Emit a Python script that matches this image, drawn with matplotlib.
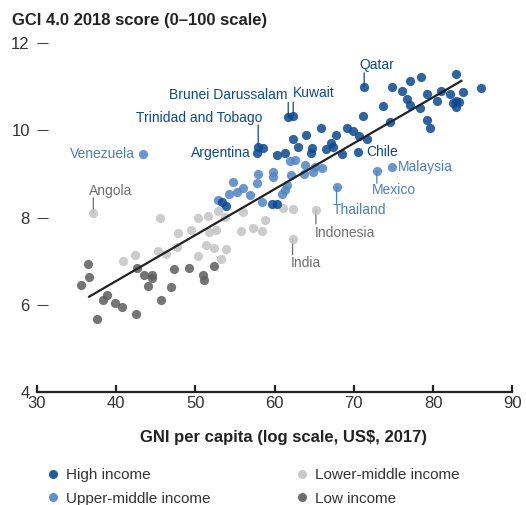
import matplotlib
matplotlib.use("Agg")
import matplotlib.pyplot as plt
from matplotlib.lines import Line2D

plt.rcParams['font.family'] = ['Liberation Sans', 'DejaVu Sans']

# ---------------- data ----------------
high_names = ['Qatar', 'Brunei Darussalam', 'Kuwait', 'Trinidad and Tobago', 'Argentina', 'Chile']
high_x = [71.31, 61.73, 62.36, 57.94, 57.74, 70.56,
          58.58, 71.11, 73.71, 74.84, 77.04, 78.50, 82.96, 76.03, 76.66, 77.08,
          78.34, 79.18, 80.44, 80.98, 82.08, 83.80, 82.46, 82.96, 83.29, 82.96,
          86.03, 79.18, 79.60, 74.55, 65.85, 69.09, 69.92, 70.61, 71.61, 67.78,
          63.93, 62.32, 62.99, 64.68, 64.63, 67.11, 67.37, 66.52, 68.46, 60.34,
          61.31, 53.43, 53.93, 59.63, 60.26]
high_y = [11.00, 10.30, 10.33, 9.62, 9.47, 9.51,
          9.59, 10.33, 10.57, 11.00, 11.14, 11.23, 11.29, 10.90, 10.71, 10.58,
          10.52, 10.84, 10.67, 10.91, 10.84, 10.89, 10.62, 10.68, 10.65, 10.54,
          10.97, 10.24, 10.05, 10.20, 10.06, 10.06, 9.99, 9.87, 9.80, 9.89,
          9.90, 9.80, 9.62, 9.59, 9.49, 9.71, 9.62, 9.58, 9.45, 9.43,
          9.47, 8.36, 8.26, 8.32, 8.32]

upper_names = ['Venezuela', 'Malaysia', 'Mexico', 'Thailand']
upper_x = [43.37, 74.77, 72.91, 67.83,
           61.94, 62.57, 63.83, 65.09, 65.94, 63.75, 64.88, 57.94, 59.84, 59.84,
           62.07, 54.79, 57.74, 56.05, 55.22, 54.25, 56.90, 61.31, 61.53, 60.90,
           52.90, 58.37]
upper_y = [9.46, 9.17, 9.06, 8.69,
           9.30, 9.32, 9.20, 9.16, 9.13, 9.01, 9.05, 9.01, 9.05, 8.92,
           8.97, 8.82, 8.80, 8.67, 8.59, 8.55, 8.51, 8.63, 8.74, 8.55,
           8.41, 8.36]

lower_names = ['Angola', 'Indonesia', 'India']
lower_x = [37.14, 65.22, 62.28,
           45.55, 40.92, 42.43, 45.26, 46.27, 47.78, 49.46, 47.69, 50.38, 51.64,
           52.86, 51.31, 52.40, 51.77, 52.65, 53.83, 50.34, 53.24, 55.73, 57.24,
           58.37, 58.79, 56.05, 53.75, 61.10, 62.36]
lower_y = [8.11, 8.17, 7.51,
           7.98, 7.00, 7.14, 7.23, 7.16, 7.64, 7.72, 7.32, 7.98, 8.03,
           8.14, 7.36, 7.29, 7.67, 7.71, 7.27, 7.11, 7.04, 7.69, 7.77,
           7.69, 7.95, 8.12, 8.01, 8.22, 8.20]

low_x = [36.43, 36.56, 35.59, 38.90, 38.40, 39.87, 40.72, 37.64, 42.56, 45.64,
         46.97, 44.07, 42.61, 43.53, 44.58, 44.50, 47.35, 49.21, 50.93, 51.14, 52.40]
low_y = [6.93, 6.63, 6.44, 6.23, 6.10, 6.04, 5.94, 5.66, 5.78, 6.10,
         6.40, 6.42, 6.83, 6.67, 6.69, 6.61, 6.81, 6.85, 6.68, 6.57, 6.89]

trend_x = [36.5, 83.7]
trend_y = [6.17, 11.15]

x_ticks = [30, 40, 50, 60, 70, 80, 90]
y_ticks = [4, 6, 8, 10, 12]

title = 'GCI 4.0 2018 score (0\u2013100 scale)'
xlabel = 'GNI per capita (log scale, US$, 2017)'
legend_labels = ['High income', 'Upper-middle income', 'Lower-middle income', 'Low income']

# ---------------- style ----------------
C_HIGH = '#0a4891'
C_UPPER = '#4f84c8'
C_LOWER = '#c3c3c3'
C_LOW = '#5d5d5d'
C_HIGH_T = '#0b4a91'
C_UPPER_T = '#4a7ec2'
C_GRAY_T = '#6f6f6f'

W, H = 526, 505
fig = plt.figure(figsize=(W / 100, H / 100), dpi=100)
ax = fig.add_axes([36.7 / W, 1 - 391.7 / H, (512.3 - 36.7) / W, (391.7 - 43.3) / H])
ax.set_xlim(30, 90)
ax.set_ylim(4, 12)

S = 44
ax.plot(trend_x, trend_y, color='#222222', lw=1.6, zorder=4, solid_capstyle='butt')
ax.scatter(lower_x, lower_y, s=S, color=C_LOWER, alpha=0.85, lw=0, zorder=2)
ax.scatter(low_x, low_y, s=S, color=C_LOW, alpha=0.85, lw=0, zorder=2)
ax.scatter(upper_x, upper_y, s=S, color=C_UPPER, alpha=0.85, lw=0, zorder=3)
ax.scatter(high_x, high_y, s=S, color=C_HIGH, alpha=0.85, lw=0, zorder=3)

for s_ in ['left', 'top', 'right']:
    ax.spines[s_].set_visible(False)
ax.spines['bottom'].set_linewidth(1.6)
ax.spines['bottom'].set_color('#222222')
ax.set_xticks(x_ticks)
ax.set_yticks(y_ticks)
ax.tick_params(axis='x', direction='in', length=5, width=1.6, color='#222222',
               labelsize=12, labelcolor='#333333', pad=3)
ax.tick_params(axis='y', direction='in', length=8, width=0.8, color='#444444',
               labelsize=12, labelcolor='#333333', pad=5)

# ---------------- labels ----------------
# (name list, x list, y list, color, [(dx, dy, ha, leader)]) offsets in pixels
label_specs = [
    (high_names, high_x, high_y, C_HIGH_T,
     [(-5, 22, 'left', 14), (-1, 22, 'right', 15), (0, 23, 'left', 14),
      (4, 29, 'right', 22), (-6, 0, 'right', 0), (8, 0, 'left', 0)]),
    (upper_names, upper_x, upper_y, C_UPPER_T,
     [(-8, 0, 'right', 0), (6, 0, 'left', 0), (-5, -19, 'left', -12), (-4, -23, 'left', -16)]),
    (lower_names, lower_x, lower_y, C_GRAY_T,
     [(-4, 22, 'left', 15), (-1, -23, 'left', -14), (-2, -24, 'left', -16)]),
]
for names, xs, ys, col, specs in label_specs:
    for i, (name, (dx, dy, ha, lead)) in enumerate(zip(names, specs)):
        if lead != 0:
            ax.annotate('', xy=(xs[i], ys[i]), xytext=(0, lead), textcoords='offset pixels',
                        arrowprops=dict(arrowstyle='-', color=col, lw=0.9,
                                        shrinkA=0, shrinkB=0), zorder=1)
        ax.annotate(name, xy=(xs[i], ys[i]), xytext=(dx, dy), textcoords='offset pixels',
                    ha=ha, va='center', color=col, fontsize=10, zorder=5)

fig.text(12 / W, 1 - 25 / H, title, fontsize=12, fontweight='bold', color='#222222',
         ha='left', va='baseline')
fig.text(283 / W, 1 - 442 / H, xlabel, fontsize=12, fontweight='bold', color='#222222',
         ha='center', va='baseline')

# ---------------- legend ----------------
cols = [C_HIGH, C_UPPER, C_LOWER, C_LOW]
handles = [Line2D([], [], marker='o', ls='none', markersize=6.5, markerfacecolor=c,
                  markeredgewidth=0, alpha=0.9) for c in cols]
for k, x0 in enumerate([47 / W, 296 / W]):
    fig.legend(handles[2 * k:2 * k + 2], legend_labels[2 * k:2 * k + 2],
               loc='center left', bbox_to_anchor=(x0, 1 - 487 / H), frameon=False,
               fontsize=11, handlelength=0.8, handletextpad=0.45, labelspacing=0.6,
               borderpad=0, borderaxespad=0, labelcolor='#333333')

fig.savefig('out.png', dpi=100)
